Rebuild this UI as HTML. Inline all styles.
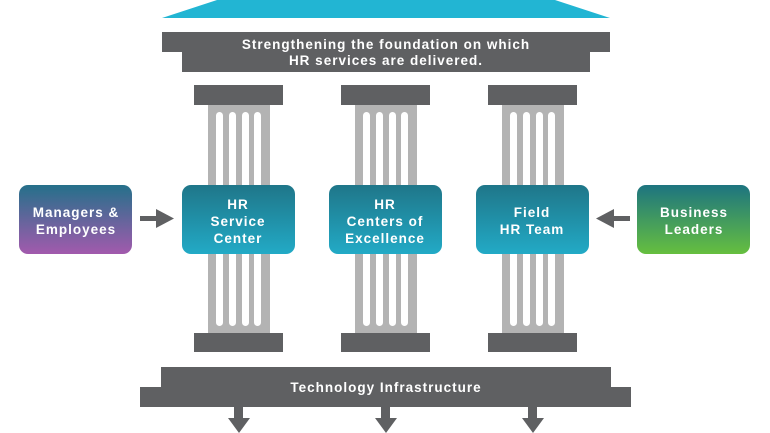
<!DOCTYPE html>
<html><head><meta charset="utf-8"><style>
html,body{margin:0;padding:0;background:#fff;width:770px;height:433px;overflow:hidden}
svg{display:block}
text{font-family:"Liberation Sans",sans-serif;font-weight:bold;fill:#fff;text-anchor:middle;letter-spacing:1px}
</style></head><body>
<svg width="770" height="433" viewBox="0 0 770 433" xmlns="http://www.w3.org/2000/svg">
<defs>
<linearGradient id="teal" x1="0" y1="0" x2="0" y2="1"><stop offset="0" stop-color="#1f7689"/><stop offset="1" stop-color="#22aac6"/></linearGradient>
<linearGradient id="purp" x1="0" y1="0" x2="0" y2="1"><stop offset="0" stop-color="#25708a"/><stop offset="1" stop-color="#a25aad"/></linearGradient>
<linearGradient id="grn" x1="0" y1="0" x2="0" y2="1"><stop offset="0" stop-color="#1d7480"/><stop offset="1" stop-color="#66bf3f"/></linearGradient>
<g id="col">
<rect x="194" y="85" width="89" height="20" fill="#5f6062"/>
<rect x="208" y="105" width="62" height="228" fill="#b3b3b3"/>
<rect x="216" y="112" width="7" height="214" rx="3.5" fill="#fff"/>
<rect x="229" y="112" width="7" height="214" rx="3.5" fill="#fff"/>
<rect x="242" y="112" width="7" height="214" rx="3.5" fill="#fff"/>
<rect x="254" y="112" width="7" height="214" rx="3.5" fill="#fff"/>
<rect x="194" y="333" width="89" height="19" fill="#5f6062"/>
<rect x="234" y="407" width="9" height="12" fill="#5f6062"/>
<polygon points="228,418 250,418 239,433" fill="#5f6062"/>
</g>
</defs>
<polygon points="217,0 555,0 610,18 162,18" fill="#22b5d3"/>
<rect x="162" y="32" width="448" height="20" fill="#5f6062"/>
<rect x="182" y="32" width="408" height="40" fill="#5f6062"/>
<text x="386" y="49" font-size="13.5">Strengthening the foundation on which</text>
<text x="386" y="65" font-size="13.5">HR services are delivered.</text>
<use href="#col"/>
<use href="#col" x="147"/>
<use href="#col" x="294"/>
<rect x="161" y="367" width="450" height="40" fill="#5f6062"/>
<rect x="140" y="387" width="491" height="20" fill="#5f6062"/>
<text x="386" y="392" font-size="13.5">Technology Infrastructure</text>
<rect x="19" y="185" width="113" height="69" rx="9" fill="url(#purp)"/>
<text x="76" y="217" font-size="13.5">Managers &amp;</text>
<text x="76" y="234" font-size="13.5">Employees</text>
<rect x="140" y="216" width="18" height="5" fill="#5f6062"/>
<polygon points="156,209 174,218.5 156,228" fill="#5f6062"/>
<rect x="182" y="185" width="113" height="69" rx="9" fill="url(#teal)"/>
<text x="238" y="209" font-size="13.5">HR</text>
<text x="238" y="226" font-size="13.5">Service</text>
<text x="238" y="243" font-size="13.5">Center</text>
<rect x="329" y="185" width="113" height="69" rx="9" fill="url(#teal)"/>
<text x="385" y="209" font-size="13.5">HR</text>
<text x="385" y="226" font-size="13.5">Centers of</text>
<text x="385" y="243" font-size="13.5">Excellence</text>
<rect x="476" y="185" width="113" height="69" rx="9" fill="url(#teal)"/>
<text x="532" y="217" font-size="13.5">Field</text>
<text x="532" y="234" font-size="13.5">HR Team</text>
<rect x="612" y="216" width="18" height="5" fill="#5f6062"/>
<polygon points="614,209 596,218.5 614,228" fill="#5f6062"/>
<rect x="637" y="185" width="113" height="69" rx="9" fill="url(#grn)"/>
<text x="694" y="217" font-size="13.5">Business</text>
<text x="694" y="234" font-size="13.5">Leaders</text>
</svg>
</body></html>
